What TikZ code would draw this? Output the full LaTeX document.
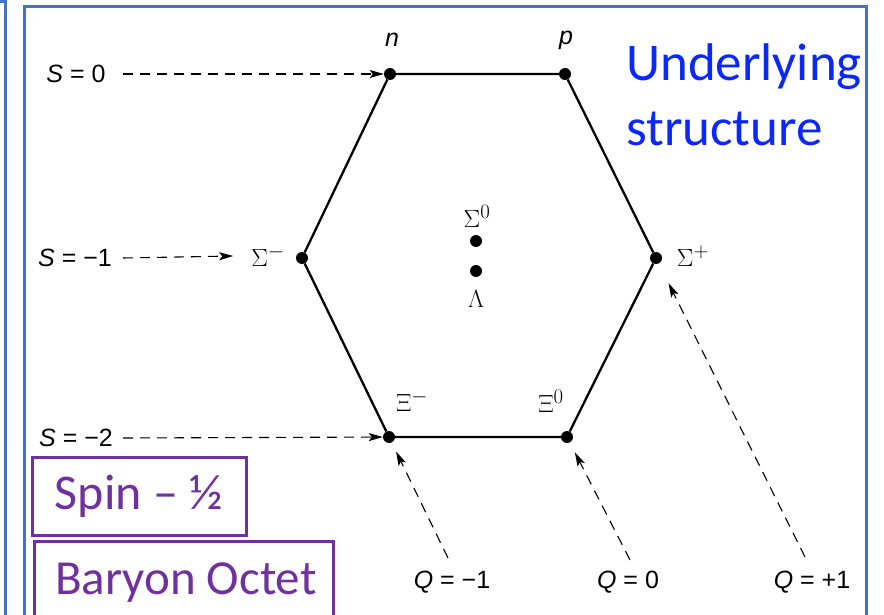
\documentclass[tikz,border=0pt]{standalone}
\usepackage{fontspec}
\setmainfont{Liberation Sans}
\newfontfamily\calib{Carlito}
\usetikzlibrary{arrows.meta}
\definecolor{frameblue}{RGB}{68,114,196}
\definecolor{txtblue}{RGB}{10,40,250}
\definecolor{purp}{RGB}{112,48,160}
\tikzset{
  dot/.style={circle,fill=black,inner sep=0pt,minimum size=12pt},
  edge/.style={line width=2.3pt,black},
  lab/.style={font=\fontsize{25}{28}\selectfont,inner sep=0pt},
  grk/.style={font=\fontsize{31}{33}\selectfont,inner sep=0pt},
  dasharrow/.style={line width=1.1pt,dash pattern=on 10pt off 7pt,
    -{Stealth[length=14pt,width=8pt,inset=3pt]}},
  purpbox/.style={draw=purp,line width=3pt,text=purp,inner sep=0pt,
    font=\calib\fontsize{50}{52}\selectfont},
}
\begin{document}
\begin{tikzpicture}[x=1pt,y=-1pt]
\useasboundingbox (0,0) rectangle (884,615);
\clip (0,0) rectangle (884,615);
% frames
\draw[frameblue,line width=3pt] (-20,2) -- (5,2) -- (5,640);
\draw[frameblue,line width=3pt] (24,640) -- (24,7) -- (866,7) -- (866,640);
% vertices
\node[dot] (n) at (390,74) {};
\node[dot] (p) at (565,74) {};
\node[dot] (sm) at (302,258) {};
\node[dot] (sp) at (656,258) {};
\node[dot] (xm) at (389,437) {};
\node[dot] (x0) at (567,437) {};
\node[dot] (s0) at (476,241) {};
\node[dot] (lam) at (476,271) {};
% hexagon
\draw[edge] (n) -- (p) -- (sp) -- (x0) -- (xm) -- (sm) -- (n);
% particle labels
\node[lab] (ln) at (392,40) {\itshape n};
\node[lab] (lp) at (566,40) {\itshape p};
\node[grk] (ls0) at (477,216) {$\Sigma^{0}$};
\node[grk] (llam) at (476,299) {$\Lambda$};
\node[grk] (lsm) at (268,256) {$\Sigma^{-}$};
\node[grk] (lsp) at (693,256) {$\Sigma^{+}$};
\node[grk] (lxm) at (412,401) {$\Xi^{-}$};
\node[grk] (lx0) at (551,401) {$\Xi^{0}$};
% strangeness labels
\node[lab] (S0) at (76,74) {\itshape S\normalfont\ = 0};
\node[lab] (S1) at (75,258) {\itshape S\normalfont\ = −1};
\node[lab] (S2) at (76,438) {\itshape S\normalfont\ = −2};
\draw[dasharrow] (123,74) -- (n);
\draw[dasharrow] (123,258) -- ([xshift=-18pt]lsm.west);
\draw[dasharrow] (123,438) -- (xm);
% charge labels
\node[lab] (Q1) at (452,582) {\itshape Q\normalfont\ = −1};
\node[lab] (Q0) at (628,582) {\itshape Q\normalfont\ = 0};
\node[lab] (Qp) at (812,582) {\itshape Q\normalfont\ = +1};
\coordinate (q1s) at (448,558);
\coordinate (q0s) at (630,560);
\coordinate (qps) at (805,557);
\draw[dasharrow,shorten >=10pt] (q1s) -- (xm);
\draw[dasharrow,shorten >=11pt] (q0s) -- (x0);
\draw[dasharrow,shorten >=22pt] (qps) -- (sp);
% text
\node[text=txtblue,font=\calib\fontsize{53}{65}\selectfont,align=left,anchor=north west,inner sep=0pt] (us) at (626,44) {Underlying\\structure};
\node[purpbox,minimum width=214pt,minimum height=78pt] (spin) at (139,496) {Spin – ½};
\node[purpbox,minimum width=299pt,minimum height=100pt,anchor=north west] (oct) at (33,540) {};
\node[text=purp,font=\calib\fontsize{49}{50}\selectfont,inner sep=0pt,anchor=base west] (octt) at (55,594) {Baryon Octet};
\end{tikzpicture}
\end{document}
